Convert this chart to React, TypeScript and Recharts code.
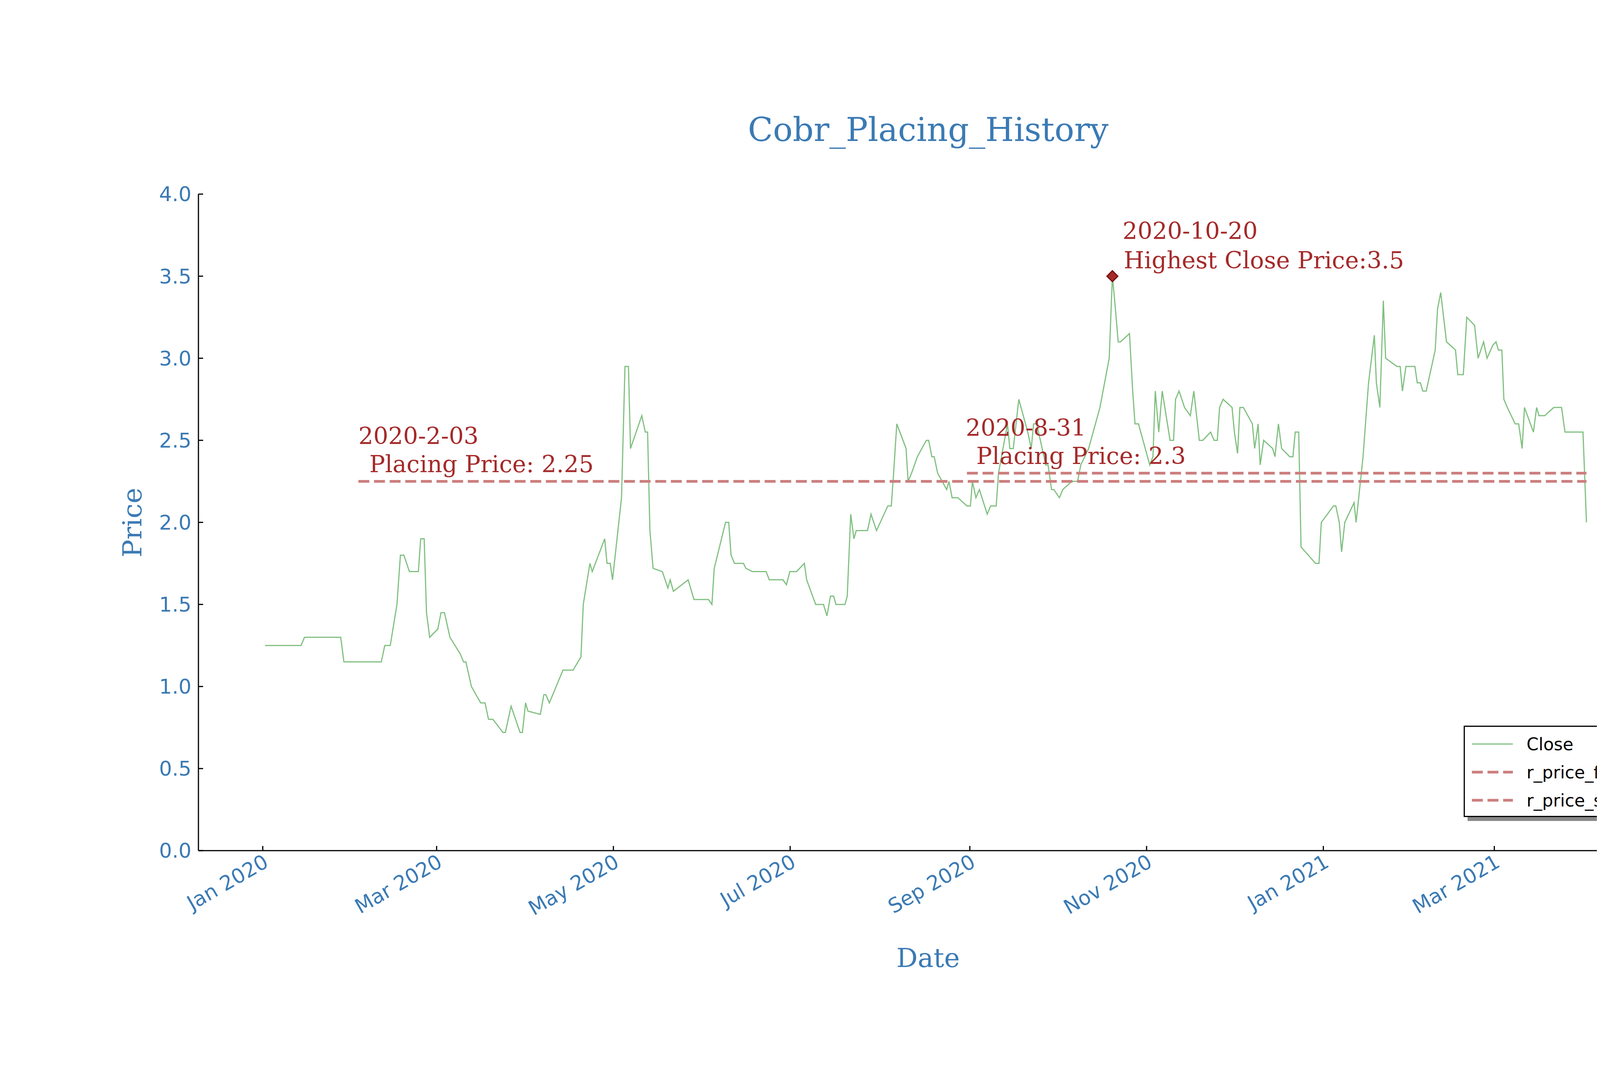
import React from 'react';
import { ComposedChart, Line, XAxis, YAxis, ReferenceDot } from 'recharts';

// day offsets since 2020-01-01 and closing prices
const closeDays = [0.8,13.2,14.4,26.9,28.0,40.9,42.1,44.0,46.3,47.5,48.7,50.6,53.7,54.5,55.7,56.5,57.6,60.4,61.5,62.7,64.6,68.1,69.3,70.1,72.0,75.2,76.7,77.9,79.4,82.9,83.7,85.7,88.8,89.6,90.7,91.5,95.8,97.0,97.7,98.9,103.6,107.1,109.8,110.6,112.9,113.7,118.0,118.8,119.9,120.7,123.8,125.0,126.2,126.9,130.8,132.0,132.8,133.6,134.7,137.9,139.8,140.6,141.7,146.8,148.8,153.8,155.0,155.8,159.7,160.8,161.6,162.8,165.9,166.7,169.0,173.7,174.8,179.5,180.7,181.9,184.2,186.9,187.7,190.8,193.5,194.7,195.9,197.0,197.8,200.9,201.7,202.9,204.0,204.8,208.7,209.9,211.8,215.7,216.9,217.7,218.8,222.0,222.7,223.9,225.9,229.0,229.8,230.9,231.7,232.9,236.0,236.8,237.9,239.9,243.0,244.2,244.9,246.1,247.3,250.0,251.2,253.1,253.9,257.0,257.8,259.0,260.9,264.0,265.2,266.0,267.1,270.2,271.0,272.2,273.0,274.9,276.1,279.2,281.2,282.3,285.0,288.9,292.1,293.2,294.0,295.2,296.0,299.1,300.2,301.0,302.2,306.1,307.2,308.0,309.2,310.4,313.1,314.3,315.0,316.2,318.1,320.1,321.3,323.2,324.4,327.1,328.3,329.4,330.2,331.4,334.5,335.3,336.4,337.2,338.4,341.5,342.3,343.5,344.2,345.4,348.5,349.3,350.5,351.6,354.4,355.5,356.3,357.5,358.3,363.3,364.5,365.3,369.5,370.3,371.5,372.3,373.4,376.6,377.3,378.5,379.7,381.6,383.6,384.3,385.5,386.7,387.5,391.4,392.5,393.3,394.5,397.6,398.4,399.5,400.3,401.5,404.6,405.4,406.5,408.5,411.6,412.4,414.3,415.5,418.2,419.4,421.3,422.5,424.5,425.6,426.4,427.6,428.3,429.5,432.2,433.4,434.6,435.4,438.5,439.6,440.4,442.4,445.5,448.2,449.4,454.4,455.6,456.8];
const closePrices = [1.25,1.25,1.3,1.3,1.15,1.15,1.25,1.25,1.5,1.8,1.8,1.7,1.7,1.9,1.9,1.45,1.3,1.35,1.45,1.45,1.3,1.2,1.15,1.15,1.0,0.9,0.9,0.8,0.8,0.72,0.72,0.88,0.72,0.72,0.9,0.85,0.83,0.95,0.95,0.9,1.1,1.1,1.18,1.5,1.75,1.7,1.9,1.75,1.75,1.65,2.15,2.95,2.95,2.45,2.65,2.55,2.55,1.95,1.72,1.7,1.6,1.65,1.58,1.65,1.53,1.53,1.5,1.72,2.0,2.0,1.8,1.75,1.75,1.72,1.7,1.7,1.65,1.65,1.62,1.7,1.7,1.75,1.65,1.5,1.5,1.43,1.55,1.55,1.5,1.5,1.55,2.05,1.9,1.95,1.95,2.05,1.95,2.1,2.1,2.3,2.6,2.45,2.25,2.3,2.4,2.5,2.5,2.4,2.4,2.3,2.2,2.25,2.15,2.15,2.1,2.1,2.25,2.15,2.2,2.05,2.1,2.1,2.3,2.6,2.45,2.45,2.75,2.55,2.45,2.6,2.6,2.35,2.35,2.2,2.2,2.15,2.2,2.25,2.25,2.35,2.45,2.7,3.0,3.5,3.35,3.1,3.1,3.15,2.8,2.6,2.6,2.35,2.4,2.8,2.55,2.8,2.5,2.5,2.75,2.8,2.7,2.65,2.8,2.5,2.5,2.55,2.5,2.5,2.7,2.75,2.7,2.55,2.42,2.7,2.7,2.6,2.45,2.6,2.35,2.5,2.45,2.4,2.6,2.45,2.4,2.4,2.55,2.55,1.85,1.75,1.75,2.0,2.1,2.1,2.0,1.82,2.0,2.12,2.0,2.2,2.4,2.85,3.14,2.85,2.7,3.35,3.0,2.95,2.95,2.8,2.95,2.95,2.85,2.85,2.8,2.8,3.05,3.3,3.4,3.1,3.05,2.9,2.9,3.25,3.2,3.0,3.1,3.0,3.08,3.1,3.05,3.05,2.75,2.7,2.6,2.6,2.45,2.7,2.55,2.7,2.65,2.65,2.7,2.7,2.55,2.55,2.55,2.0];

const febDays = [33, 456.8];
const febPrice = 2.25;
const sepDays = [243, 456.8];
const sepPrice = 2.3;
const peakDay = 293.2;
const peakPrice = 3.5;

const xTickDays = [0, 60, 121, 182, 244, 305, 366, 425];
const xTickLabels = ['Jan 2020', 'Mar 2020', 'May 2020', 'Jul 2020', 'Sep 2020', 'Nov 2020', 'Jan 2021', 'Mar 2021'];
const yTicks = [0, 0.5, 1, 1.5, 2, 2.5, 3, 3.5, 4];

const closeData = closeDays.map((d, i) => ({ d, v: closePrices[i] }));
const febData = febDays.map((d) => ({ d, v: febPrice }));
const sepData = sepDays.map((d) => ({ d, v: sepPrice }));

const BLUE = '#3b7ab4';
const RED = '#a52a2a';
const GREEN = '#80c080';
const DASH = '#cc7f7f';
const SERIF = '"DejaVu Serif", serif';
const SANS = '"DejaVu Sans", sans-serif';

const W = 4514, H = 2780;
const X_DOMAIN: [number, number] = [-22.2, 479.4];

const XTick = (p: any) => {
  const i = xTickDays.indexOf(p.payload.value);
  return (
    <g transform={`translate(${p.x},${p.y})`}>
      <text textAnchor="end" transform="rotate(-30)" dy={36} fontSize={52} fill={BLUE} fontFamily={SANS}>
        {xTickLabels[i]}
      </text>
    </g>
  );
};

const annot = (l1: string, l2: string, dx1: number, dx2: number, dy2: number, diamond: boolean) => (p: any) => {
  const { cx, cy } = p;
  return (
    <g>
      {diamond && (
        <polygon points={`${cx},${cy - 14} ${cx + 14},${cy} ${cx},${cy + 14} ${cx - 14},${cy}`} fill={RED} stroke="#7a1010" strokeWidth={3} />
      )}
      <text x={cx + dx1} y={cy - 95} fontSize={60} fill={RED} fontFamily={SERIF}>{l1}</text>
      <text x={cx + dx2} y={cy + dy2} fontSize={60} fill={RED} fontFamily={SERIF}>{l2}</text>
    </g>
  );
};

const legendItems = [
  { name: 'Close', color: GREEN, dash: '' },
  { name: 'r_price_feb', color: DASH, dash: '28,12' },
  { name: 'r_price_sep', color: DASH, dash: '28,12' },
];

export default function App() {
  return (
    <div style={{ position: 'relative', width: W, height: H, background: 'white' }}>
      <div style={{ position: 'absolute', left: 0, width: 4736, top: 275, textAlign: 'center', fontFamily: SERIF, fontSize: 84, color: BLUE }}>
        Cobr_Placing_History
      </div>
      <div style={{ position: 'absolute', left: 0, width: 4736, top: 2405, textAlign: 'center', fontFamily: SERIF, fontSize: 68, color: BLUE }}>
        Date
      </div>
      <div style={{ position: 'absolute', left: 330, top: 1330, transform: 'translate(-50%,-50%) rotate(-90deg)', fontFamily: SERIF, fontSize: 68, color: BLUE, whiteSpace: 'nowrap' }}>
        Price
      </div>
      <ComposedChart width={W} height={H} margin={{ top: 489, right: 293, left: 300, bottom: 310 }}>
        <XAxis dataKey="d" type="number" domain={X_DOMAIN} allowDataOverflow ticks={xTickDays} tick={<XTick />}
          height={300} stroke="black" strokeWidth={3} tickSize={-12} tickMargin={20} interval={0} />
        <XAxis xAxisId="top" orientation="top" dataKey="d" type="number" domain={X_DOMAIN} allowDataOverflow ticks={xTickDays}
          tick={() => <g />} height={0} stroke="black" strokeWidth={3} tickSize={-12} interval={0} />
        <YAxis type="number" domain={[0, 4]} ticks={yTicks} width={200} stroke="black" strokeWidth={3} tickSize={-12} tickMargin={30}
          tickFormatter={(v: number) => v.toFixed(1)} tick={{ fontSize: 52, fill: BLUE, fontFamily: SANS }} interval={0} />
        <YAxis yAxisId="right" orientation="right" type="number" domain={[0, 4]} ticks={yTicks} width={0} stroke="black" strokeWidth={3}
          tickSize={-12} tick={() => <g />} interval={0} />
        <Line data={closeData} xAxisId="top" yAxisId="right" dataKey="v" stroke="none" strokeWidth={0} dot={false} legendType="none" isAnimationActive={false} />
        <Line data={closeData} dataKey="v" name="Close" stroke={GREEN} strokeWidth={3} dot={false} isAnimationActive={false} />
        <Line data={febData} dataKey="v" name="r_price_feb" stroke={DASH} strokeWidth={7} strokeDasharray="28 12" dot={false} isAnimationActive={false} />
        <Line data={sepData} dataKey="v" name="r_price_sep" stroke={DASH} strokeWidth={7} strokeDasharray="28 12" dot={false} isAnimationActive={false} />
        <ReferenceDot x={febDays[0]} y={febPrice} r={1} shape={annot('2020-2-03', 'Placing Price: 2.25', 0, 28, -23, false)} />
        <ReferenceDot x={sepDays[0]} y={sepPrice} r={1} shape={annot('2020-8-31', 'Placing Price: 2.3', -3, 24, -23, false)} />
        <ReferenceDot x={peakDay} y={peakPrice} r={1} shape={annot('2020-10-20', 'Highest Close Price:3.5', 26, 29, -20, true)} />
      </ComposedChart>
      <div style={{ position: 'absolute', left: 3739, top: 1850, width: 462, height: 234, border: '3px solid black', background: 'white', boxShadow: '10px 10px 0 #888', boxSizing: 'border-box', padding: '8px 18px', fontFamily: SANS, fontSize: 44 }}>
        {legendItems.map((e) => (
          <div key={e.name} style={{ display: 'flex', alignItems: 'center', height: 72 }}>
            <svg width={110} height={20}>
              <line x1={0} x2={105} y1={10} y2={10} stroke={e.color} strokeWidth={e.dash ? 7 : 3} strokeDasharray={e.dash} />
            </svg>
            <span style={{ marginLeft: 30 }}>{e.name}</span>
          </div>
        ))}
      </div>
    </div>
  );
}
